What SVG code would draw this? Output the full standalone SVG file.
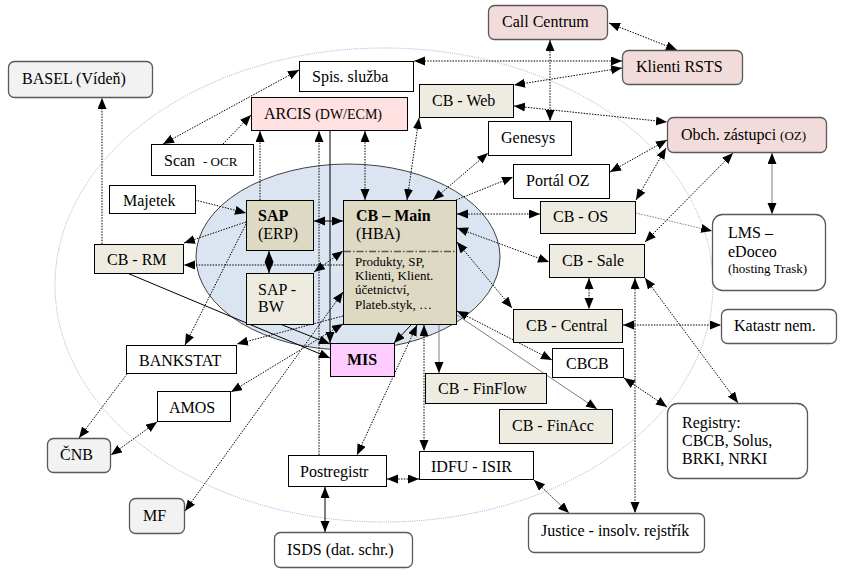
<svg xmlns="http://www.w3.org/2000/svg" width="845" height="587" viewBox="0 0 845 587">
<defs>
<style>
.t{font-family:"Liberation Serif","Times New Roman",serif;font-size:16px;fill:#000}
.s{font-size:13px}
.m{font-size:14px}
.bo{font-weight:bold}
.b{fill:#fff;stroke:#000;stroke-width:1}
.bg{fill:#eeece1;stroke:#000;stroke-width:1}
.bd{fill:#ddd9c3;stroke:#000;stroke-width:1}
.r{stroke:#595959;stroke-width:1.3}
.pk{fill:#f2dcdb}
.gy{fill:#f2f2f2}
.w{fill:#fff}
.c{fill:none;stroke:#000;stroke-width:1}
.d{stroke-dasharray:1.5 1.3}
.g{stroke:#7f7f7f}
.one{marker-end:url(#ah)}
.two{marker-start:url(#ah);marker-end:url(#ah)}
</style>
<marker id="ah" markerUnits="userSpaceOnUse" markerWidth="12" markerHeight="10" refX="11" refY="4.5" orient="auto-start-reverse" viewBox="0 0 12 10">
<path d="M0,0 L11,4.5 L0,9 z" fill="#000"/>
</marker>
</defs>
<rect width="845" height="587" fill="#fff"/>
<g id="background">
<ellipse cx="384" cy="285" rx="329" ry="237" fill="none" stroke="#8eb4e3" stroke-width="1" stroke-dasharray="1 1.2"/>
<ellipse cx="348" cy="257" rx="152" ry="93" fill="#dbe5f1" stroke="#404040" stroke-width="1"/>
</g>
<g id="connectors">
<path class="c d two" d="M609,23 L677,50"/>
<path class="c d two" d="M550,40 L550,121"/>
<path class="c d two" d="M622,61 L414,61"/>
<path class="c d two" d="M622,68 L514,85"/>
<path class="c d two" d="M514,106 L667,122"/>
<path class="c d two" d="M419,118 L407,200"/>
<path class="c d two" d="M299,70 L163,144"/>
<path class="c d one" d="M223,144 L251,115"/>
<path class="c d one" d="M260,200 L260,131"/>
<path class="c d one" d="M319,455 L319,131"/>
<path class="c one" d="M330,131 L330,343"/>
<path class="c d two" d="M365,131 L365,200"/>
<path class="c d one" d="M102,244 L102,98"/>
<path class="c d one" d="M195,200 L246,213"/>
<path class="c d one" d="M246,222 L184,243"/>
<path class="c d one" d="M246,224 L185,345"/>
<path class="c two" d="M269,251 L269,273"/>
<path class="c two" d="M314,221 L343,221"/>
<path class="c d two" d="M314,272 L343,251"/>
<path class="c d one" d="M343,265 L184,265"/>
<path class="c d one" d="M343,316 L237,344"/>
<path class="c d two" d="M343,292 L185,511"/>
<path class="c d two" d="M343,324 L231,392"/>
<path class="c one" d="M127,273 L330,358"/>
<path class="c one" d="M280,324 L330,344"/>
<path class="c one" d="M412,324 L394,343"/>
<path class="c d two" d="M417,325 L357,455"/>
<path class="c d two" d="M424,325 L424,451"/>
<path class="c g one" d="M439,325 L439,373"/>
<path class="c d two" d="M433,200 L488,153"/>
<path class="c d one" d="M456,200 L513,177"/>
<path class="c d two" d="M457,214 L540,214"/>
<path class="c d two" d="M457,228 L549,262"/>
<path class="c d two" d="M457,242 L512,308"/>
<path class="c d two" d="M457,311 L552,360"/>
<path class="c g one" d="M457,315 L597,409"/>
<path class="c d two" d="M610,172 L667,140"/>
<path class="c d two" d="M636,200 L666,148"/>
<path class="c d two" d="M645,242 L733,153"/>
<path class="c g two" d="M772,153 L772,214"/>
<path class="c d g one" d="M636,213 L712,231"/>
<path class="c d two" d="M589,278 L589,309"/>
<path class="c d two" d="M635,278 L635,513"/>
<path class="c d two" d="M645,278 L738,403"/>
<path class="c d two" d="M623,325 L721,325"/>
<path class="c d two" d="M624,378 L667,407"/>
<path class="c d two" d="M387,479 L419,479"/>
<path class="c d two" d="M534,480 L569,513"/>
<path class="c two" d="M325,487 L325,532"/>
<path class="c d one" d="M127,374 L79,438"/>
<path class="c d two" d="M157,422 L111,455"/>
</g>
<g id="call-centrum"><rect x="488.5" y="5.5" width="119" height="34" rx="6" class="pk r"/><text x="502" y="27" class="t">Call Centrum</text></g>
<g id="klienti-rsts"><rect x="622.5" y="50.5" width="120" height="34" rx="6" class="pk r"/><text x="636" y="72" class="t">Klienti RSTS</text></g>
<g id="spis-sluzba"><rect x="299.5" y="61.5" width="114" height="30" class="b"/><text x="312" y="82" class="t">Spis. služba</text></g>
<g id="arcis"><rect x="251.5" y="97.5" width="156" height="33" fill="#ffe1e1" stroke="#000"/><text x="264" y="119" class="t">ARCIS <tspan class="m">(DW/ECM)</tspan></text></g>
<g id="basel"><rect x="8.5" y="61.5" width="144" height="36" rx="6" class="gy r"/><text x="22" y="84" class="t">BASEL (Vídeň)</text></g>
<g id="scan-ocr"><rect x="151.5" y="144.5" width="102" height="31" class="b"/><text x="164" y="166" class="t">Scan <tspan x="203" class="s">- OCR</tspan></text></g>
<g id="cb-web"><rect x="419.5" y="84.5" width="94" height="33" class="bg"/><text x="432" y="106" class="t">CB - Web</text></g>
<g id="genesys"><rect x="488.5" y="121.5" width="83" height="34" class="b"/><text x="501" y="143" class="t">Genesys</text></g>
<g id="obch-zastupci"><rect x="667.5" y="117.5" width="159" height="35" rx="6" class="pk r"/><text x="681" y="140" class="t">Obch. zástupci <tspan class="s">(OZ)</tspan></text></g>
<g id="portal-oz"><rect x="513.5" y="164.5" width="96" height="34" class="b"/><text x="526" y="186" class="t">Portál OZ</text></g>
<g id="majetek"><rect x="109.5" y="185.5" width="86" height="28" class="b"/><text x="123" y="206" class="t">Majetek</text></g>
<g id="cb-rm"><rect x="94.5" y="244.5" width="89" height="29" class="bg"/><text x="107" y="265" class="t">CB - RM</text></g>
<g id="sap-erp"><rect x="246.5" y="200.5" width="67" height="50" class="bd"/><text x="258" y="221" class="t bo">SAP</text><text x="258" y="239" class="t">(ERP)</text></g>
<g id="sap-bw"><rect x="246.5" y="273.5" width="67" height="51" class="bg"/><text x="258" y="295" class="t">SAP -</text><text x="258" y="312" class="t">BW</text></g>
<g id="cb-main"><rect x="343.5" y="200.5" width="113" height="124" class="bd"/>
<path d="M344,251.5 L456,251.5" stroke="#595959" stroke-width="1.3" stroke-dasharray="7 2 1.5 2" fill="none"/>
<text x="356" y="221" class="t bo">CB – Main</text><text x="356" y="239" class="t">(HBA)</text>
<text x="355" y="266" class="t s">Produkty, SP,</text><text x="355" y="280" class="t s">Klienti, Klient.</text><text x="355" y="294" class="t s">účetnictví,</text><text x="355" y="309" class="t s">Plateb.styk, …</text></g>
<g id="mis"><rect x="330.5" y="343.5" width="64" height="33" fill="#ffccff" stroke="#000"/><text x="347" y="365" class="t bo">MIS</text></g>
<g id="bankstat"><rect x="126.5" y="345.5" width="110" height="28" class="b"/><text x="139" y="366" class="t">BANKSTAT</text></g>
<g id="amos"><rect x="157.5" y="391.5" width="73" height="30" class="b"/><text x="169" y="413" class="t">AMOS</text></g>
<g id="cnb"><rect x="47.5" y="438.5" width="63" height="34" rx="6" class="gy r"/><text x="60" y="460" class="t">ČNB</text></g>
<g id="mf"><rect x="129.5" y="498.5" width="55" height="35" rx="6" class="gy r"/><text x="143" y="521" class="t">MF</text></g>
<g id="postregistr"><rect x="288.5" y="455.5" width="98" height="31" class="b"/><text x="300" y="477" class="t">Postregistr</text></g>
<g id="isds"><rect x="274.5" y="532.5" width="138" height="35" rx="6" class="w r"/><text x="287" y="555" class="t">ISDS (dat. schr.)</text></g>
<g id="idfu-isir"><rect x="419.5" y="451.5" width="114" height="28" class="b"/><text x="431" y="472" class="t">IDFU - ISIR</text></g>
<g id="cb-finflow"><rect x="425.5" y="373.5" width="121" height="30" class="bg"/><text x="438" y="394" class="t">CB - FinFlow</text></g>
<g id="cb-finacc"><rect x="499.5" y="409.5" width="113" height="34" class="bg"/><text x="512" y="431" class="t">CB - FinAcc</text></g>
<g id="justice"><rect x="528.5" y="513.5" width="176" height="39" rx="6" class="w r"/><text x="541" y="536" class="t">Justice - insolv. rejstřík</text></g>
<g id="registry"><rect x="667.5" y="403.5" width="140" height="75" rx="10" class="w r"/><text x="682" y="428" class="t">Registry:</text><text x="682" y="446" class="t">CBCB, Solus,</text><text x="682" y="464" class="t">BRKI, NRKI</text></g>
<g id="cbcb"><rect x="552.5" y="348.5" width="71" height="29" class="b"/><text x="566" y="369" class="t">CBCB</text></g>
<g id="cb-central"><rect x="513.5" y="309.5" width="109" height="33" class="bg"/><text x="526" y="331" class="t">CB - Central</text></g>
<g id="katastr"><rect x="721.5" y="309.5" width="115" height="34" rx="6" class="w r"/><text x="734" y="331" class="t">Katastr nem.</text></g>
<g id="cb-sale"><rect x="549.5" y="244.5" width="95" height="33" class="bg"/><text x="562" y="266" class="t">CB - Sale</text></g>
<g id="cb-os"><rect x="540.5" y="201.5" width="95" height="32" class="bg"/><text x="553" y="222" class="t">CB - OS</text></g>
<g id="lms"><rect x="712.5" y="214.5" width="113" height="76" rx="10" class="w r"/><text x="728" y="238" class="t">LMS –</text><text x="728" y="257" class="t">eDoceo</text><text x="728" y="273" class="t s">(hosting Trask)</text></g>
</svg>
